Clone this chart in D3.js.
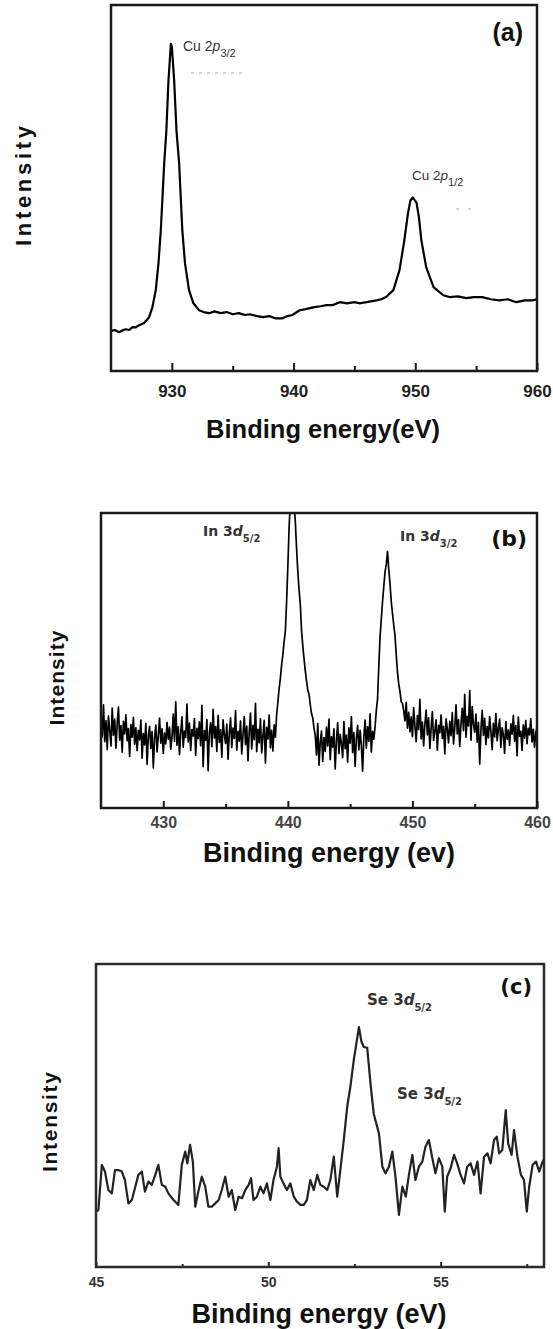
<!DOCTYPE html>
<html>
<head>
<meta charset="utf-8">
<script src="https://cdn.jsdelivr.net/npm/d3@7"></script>
<style>
  body { margin: 0; background: #fff; }
  text { font-family: "Liberation Sans", Arial, sans-serif; }
</style>
</head>
<body>
<div id="chart"></div>
<script>
// ---- data (intensity in arbitrary units 0-100 of frame height) ----

// (a) Cu 2p
const cuEnergy = [925.0,925.3,925.66,926.0,926.21,926.5,926.76,927.0,927.31,927.72,928.13,928.40,928.68,928.90,929.09,929.23,929.37,929.55,929.72,929.92,930.0,930.19,930.38,930.6,930.73,930.86,931.08,931.41,931.77,932.24,932.6,933.07,933.5,934.0,934.5,935.0,935.5,936.0,936.4,937.0,937.5,938.0,938.5,939.1,939.5,939.9,940.5,941.0,941.6,942.2,942.7,943.2,943.8,944.4,945.0,945.4,946.0,946.8,947.2,947.6,948.2,948.7,949.1,949.4,949.6,949.8,950.1,950.3,950.5,950.9,951.5,952.3,952.8,953.5,954.2,954.8,955.5,956.2,956.9,957.6,958.3,959.0,959.6,960.0];
const cuIntensity = [10.9,11.2,10.6,11.2,11.4,11.2,12.0,11.9,12.5,13.1,14.7,17.4,22.1,29.4,38.4,47.4,56.7,65.7,79.3,89.4,88.6,79.3,65.7,56.7,47.4,38.4,29.4,22.1,18.5,16.6,16.1,15.8,16.3,15.8,16.1,15.5,15.8,15.3,15.5,15.0,14.7,15.0,14.4,14.4,15.0,15.3,16.6,16.9,17.4,17.7,18.0,18.0,18.8,18.5,18.8,18.5,18.8,19.3,19.6,20.2,22.1,27.5,35.7,43.1,46.6,47.4,46.0,42.0,35.7,28.3,22.9,20.7,20.2,20.4,19.9,20.2,20.2,19.6,19.3,19.6,18.8,19.3,19.3,19.6];
const cuMajorTicks = [930, 940, 950, 960];
const cuMinorTicks = [935, 945, 955];

// (b) In 3d, sampled every 0.1 eV from 425 eV
const inStart = 425, inStep = 0.1;
const inIntensity = [
  27.8,24.1,35.0,22.5,29.6,19.8,31.2,26.4,21.0,33.9,
  24.7,30.1,20.3,28.5,34.2,23.0,27.9,18.9,29.4,25.1,
  31.6,22.8,26.9,17.5,28.3,24.0,30.7,21.6,27.2,19.4,
  26.3,23.1,29.8,16.9,25.2,21.4,28.6,14.8,24.5,27.7,
  20.2,25.9,13.6,23.8,28.1,19.0,24.6,30.5,22.0,26.8,
  18.5,25.4,21.7,29.0,23.3,27.4,19.9,24.2,31.8,22.6,
  36.0,21.3,27.5,18.1,25.7,30.9,20.6,26.1,23.9,35.2,
  22.4,28.8,19.5,26.6,24.4,30.3,17.8,27.0,23.5,29.2,
  21.1,34.8,14.0,26.2,22.9,30.0,12.6,25.6,28.9,20.8,
  33.4,23.7,27.6,19.2,31.4,22.2,26.5,17.2,29.9,24.8,
  21.9,28.4,16.5,25.3,30.6,20.5,27.1,23.6,33.0,19.6,
  26.0,22.7,29.5,18.3,24.9,31.0,21.5,27.8,16.0,25.8,
  32.2,20.0,28.0,23.2,35.5,19.1,26.7,22.1,30.2,18.7,
  24.3,29.7,15.2,27.3,23.4,31.5,20.4,26.3,19.3,28.2,
  24.0,31.5,36.0,40.5,44.0,48.5,52.0,56.5,60.0,70.0,
  82.0,95.0,104.0,108.0,106.0,103.0,97.0,88.0,80.0,74.0,
  69.0,60.0,55.0,50.5,46.5,43.0,40.0,38.5,35.0,32.0,
  30.5,27.0,24.5,18.0,28.6,14.5,22.3,26.1,15.8,23.9,
  19.2,27.4,21.0,30.1,16.4,24.2,20.6,26.8,13.2,22.7,
  28.9,18.4,25.0,21.9,17.1,29.3,20.1,24.7,15.5,27.2,
  22.0,31.0,18.8,25.6,14.1,23.5,28.0,19.7,26.3,21.2,
  12.5,24.0,29.8,20.3,27.5,22.6,31.9,19.0,26.0,23.3,
  27.5,33.0,37.0,48.0,58.0,64.0,70.0,75.0,80.0,82.5,
  87.0,81.0,76.0,70.0,66.0,62.0,58.5,52.0,46.0,42.0,
  39.5,36.0,35.5,33.0,29.5,35.8,27.1,32.4,25.8,30.9,
  24.2,34.0,27.9,22.5,31.3,26.6,36.8,23.4,29.1,21.0,
  28.4,33.2,24.8,30.6,20.2,27.0,32.7,22.9,26.1,29.9,
  19.6,28.0,25.5,31.5,23.6,27.7,18.3,30.2,26.9,22.1,
  29.4,24.5,32.3,21.7,27.3,35.0,25.1,30.0,20.9,28.6,
  33.8,26.2,38.5,24.0,31.1,27.8,39.8,23.0,34.4,28.3,
  25.7,31.8,22.3,29.0,14.8,26.5,33.1,24.6,30.4,21.5,
  27.6,23.8,31.0,25.9,19.8,28.7,24.1,32.0,22.8,26.8,
  30.1,20.5,27.2,24.9,18.5,29.3,23.3,26.4,21.2,28.5,
  25.0,31.4,22.6,27.9,17.7,30.8,24.3,26.0,19.5,28.2,
  23.7,29.6,21.8,27.0,24.8,30.2,22.4,26.7,20.6,25.5,
  27.3
];
const inMajorTicks = [430, 440, 450, 460];
const inMinorTicks = [435, 445, 455];

// (c) Se 3d
const seEnergy = [45.00,45.07,45.17,45.26,45.36,45.46,45.55,45.65,45.75,45.84,45.94,46.04,46.13,46.23,46.33,46.42,46.52,46.62,46.72,46.81,46.91,47.01,47.10,47.25,47.39,47.49,47.59,47.65,47.73,47.81,47.88,47.97,48.07,48.17,48.26,48.36,48.46,48.56,48.65,48.75,48.85,48.94,49.04,49.14,49.24,49.33,49.43,49.50,49.57,49.67,49.77,49.86,49.96,50.06,50.15,50.25,50.30,50.35,50.44,50.54,50.64,50.74,50.83,50.93,51.03,51.12,51.22,51.32,51.42,51.51,51.61,51.71,51.80,51.90,52.00,52.09,52.19,52.29,52.38,52.48,52.63,52.70,52.77,52.87,52.97,53.06,53.21,53.31,53.40,53.50,53.60,53.69,53.79,53.89,53.99,54.08,54.18,54.27,54.37,54.47,54.56,54.66,54.76,54.85,54.95,55.05,55.12,55.19,55.29,55.39,55.48,55.58,55.68,55.77,55.87,55.97,56.07,56.16,56.26,56.36,56.45,56.55,56.63,56.70,56.79,56.89,56.96,57.06,57.13,57.23,57.33,57.42,57.50,57.57,57.67,57.77,57.86,57.96,58.00];
const seIntensity = [18.3,18.8,33.7,31.5,25.4,24.3,32.0,32.0,31.5,28.7,21.0,22.1,26.0,30.4,31.5,24.9,28.2,27.1,30.4,33.7,27.1,26.5,24.3,22.1,20.5,33.7,38.1,34.2,40.3,34.8,19.9,24.9,29.8,26.5,19.9,19.9,21.0,22.1,25.4,29.8,23.2,25.4,18.8,23.2,22.7,25.4,27.1,29.3,22.1,23.2,26.5,24.3,27.6,22.1,28.7,33.1,39.2,29.8,27.6,25.4,27.6,23.2,21.6,20.5,20.5,22.1,28.7,25.4,30.4,27.1,26.5,25.4,28.7,36.4,23.2,32.0,41.9,52.9,59.4,68.3,79.2,74.5,72.6,72.3,60.0,50.5,44.1,33.1,30.9,33.1,38.1,29.8,17.2,26.5,23.2,30.4,37.0,28.7,33.1,34.8,39.7,41.9,35.9,30.9,35.9,33.1,18.3,29.8,32.6,37.0,34.2,30.4,27.6,33.1,34.2,30.4,34.8,24.3,36.4,37.5,34.2,41.9,43.0,37.5,38.6,51.8,40.8,37.0,45.2,36.4,30.4,28.7,18.3,26.5,33.7,34.8,31.5,34.8,35.5];
const seMajorTicks = [45, 50, 55];
const seMinorTicks = [47.5, 52.5, 57.5];

// ---- layout ----
const svg = d3.select("#chart").append("svg")
  .attr("width", 553)
  .attr("height", 1329)
  .style("background", "#fff");

const panels = [
  {
    id: "a",
    points: cuEnergy.map((e, i) => [e, cuIntensity[i]]),
    xDomain: [925, 960], major: cuMajorTicks, minor: cuMinorTicks,
    left: 111, right: 537, top: 5, bottom: 371,
    lineWidth: 2.2, lineColor: "#000", frameColor: "#1a1a1a", frameWidth: 2.5,
    majorLen: 8, minorLen: 5, tickFont: 17, tickPad: 14, tickColor: "#222",
    title: "Binding energy(eV)", titleX: 323, titleY: 438, titleSize: 25.5,
    yTitleX: 31, yTitleY: 186, yTitleSize: 22, yTitleLen: 120,
    tag: "(a)", tagX: 523, tagY: 41, tagSize: 25, tagFont: "Liberation Sans",
    peaks: [
      { x: 183, y: 51, main: "Cu 2", it: "p", sub: "3/2", size: 14, subSize: 11, dy: 6, font: "Liberation Sans", weight: "normal", color: "#333" },
      { x: 412, y: 180, main: "Cu 2", it: "p", sub: "1/2", size: 13.5, subSize: 11, dy: 6, font: "Liberation Sans", weight: "normal", color: "#333" }
    ]
  },
  {
    id: "b",
    points: inIntensity.map((v, i) => [+(inStart + i * inStep).toFixed(1), v]),
    xDomain: [425, 460], major: inMajorTicks, minor: inMinorTicks,
    left: 101, right: 537, top: 513, bottom: 808,
    lineWidth: 1.7, lineColor: "#000", frameColor: "#1a1a1a", frameWidth: 2.5,
    majorLen: 7, minorLen: 4, tickFont: 16, tickPad: 8.6, tickColor: "#444",
    title: "Binding energy (ev)", titleX: 329, titleY: 862, titleSize: 27,
    yTitleX: 64, yTitleY: 678, yTitleSize: 21, yTitleLen: 95,
    tag: "(b)", tagX: 527, tagY: 546, tagSize: 22, tagFont: "DejaVu Sans",
    peaks: [
      { x: 203, y: 536, main: "In 3", it: "d", sub: "5/2", size: 14, subSize: 10, dy: 6, font: "DejaVu Sans", weight: "bold", color: "#333" },
      { x: 400, y: 541, main: "In 3", it: "d", sub: "3/2", size: 14, subSize: 10, dy: 6, font: "DejaVu Sans", weight: "bold", color: "#333" }
    ]
  },
  {
    id: "c",
    points: seEnergy.map((e, i) => [e, seIntensity[i]]),
    xDomain: [45, 58], major: seMajorTicks, minor: seMinorTicks,
    left: 96, right: 544, top: 964, bottom: 1267,
    lineWidth: 2.2, lineColor: "#222", frameColor: "#2a2a2a", frameWidth: 2.5,
    majorLen: 5, minorLen: 3, tickFont: 14, tickPad: 10, tickColor: "#333",
    title: "Binding energy (eV)", titleX: 319, titleY: 1323, titleSize: 27,
    yTitleX: 57, yTitleY: 1122, yTitleSize: 21, yTitleLen: 100,
    tag: "(c)", tagX: 532, tagY: 994, tagSize: 21, tagFont: "DejaVu Sans",
    peaks: [
      { x: 367, y: 1005, main: "Se 3", it: "d", sub: "5/2", size: 15, subSize: 10, dy: 6, font: "DejaVu Sans", weight: "bold", color: "#333" },
      { x: 397, y: 1099, main: "Se 3", it: "d", sub: "5/2", size: 15, subSize: 10, dy: 6, font: "DejaVu Sans", weight: "bold", color: "#333" }
    ]
  }
];

panels.forEach(p => {
  const x = d3.scaleLinear().domain(p.xDomain).range([p.left, p.right]);
  const y = d3.scaleLinear().domain([0, 100]).range([p.bottom, p.top]);
  const g = svg.append("g").attr("id", "panel-" + p.id);

  g.append("clipPath").attr("id", "clip-" + p.id)
    .append("rect")
    .attr("x", p.left).attr("y", p.top)
    .attr("width", p.right - p.left).attr("height", p.bottom - p.top);

  const line = d3.line().x(d => x(d[0])).y(d => y(d[1]));

  g.append("path")
    .datum(p.points)
    .attr("clip-path", "url(#clip-" + p.id + ")")
    .attr("d", line)
    .attr("fill", "none")
    .attr("stroke", p.lineColor)
    .attr("stroke-width", p.lineWidth)
    .attr("stroke-linejoin", "round");

  // inward ticks
  const major = g.append("g")
    .attr("transform", "translate(0," + p.bottom + ")")
    .call(d3.axisBottom(x).tickValues(p.major).tickSize(-p.majorLen)
      .tickPadding(p.tickPad).tickFormat(d3.format("d")));
  const minor = g.append("g")
    .attr("transform", "translate(0," + p.bottom + ")")
    .call(d3.axisBottom(x).tickValues(p.minor).tickSize(-p.minorLen).tickFormat(""));
  [major, minor].forEach(a => {
    a.select(".domain").remove();
    a.selectAll("line").attr("stroke", p.frameColor).attr("stroke-width", 2);
  });
  major.selectAll("text")
    .attr("font-family", "Liberation Sans, Arial, sans-serif")
    .attr("font-size", p.tickFont)
    .attr("font-weight", "bold")
    .attr("fill", p.tickColor);

  g.append("rect")
    .attr("x", p.left).attr("y", p.top)
    .attr("width", p.right - p.left).attr("height", p.bottom - p.top)
    .attr("fill", "none")
    .attr("stroke", p.frameColor)
    .attr("stroke-width", p.frameWidth);

  g.append("text")
    .attr("x", p.titleX).attr("y", p.titleY)
    .attr("text-anchor", "middle")
    .attr("font-size", p.titleSize)
    .attr("font-weight", "bold")
    .attr("fill", "#111")
    .text(p.title);

  g.append("text")
    .attr("transform", "translate(" + p.yTitleX + "," + p.yTitleY + ") rotate(-90)")
    .attr("text-anchor", "middle")
    .attr("font-size", p.yTitleSize)
    .attr("font-weight", "bold")
    .attr("fill", "#111")
    .attr("textLength", p.yTitleLen)
    .attr("lengthAdjust", "spacing")
    .text("Intensity");

  g.append("text")
    .attr("x", p.tagX).attr("y", p.tagY)
    .attr("text-anchor", "end")
    .style("font-family", p.tagFont)
    .attr("font-size", p.tagSize)
    .attr("font-weight", "bold")
    .attr("fill", "#111")
    .text(p.tag);

  p.peaks.forEach(l => {
    const t = g.append("text")
      .attr("x", l.x).attr("y", l.y)
      .style("font-family", l.font)
      .attr("font-size", l.size)
      .attr("font-weight", l.weight)
      .attr("fill", l.color);
    t.append("tspan").text(l.main);
    t.append("tspan").attr("font-style", "italic").text(l.it);
    t.append("tspan").attr("font-size", l.subSize).attr("dy", l.dy).text(l.sub);
  });
});

// faint scan marks under the Cu labels
svg.append("line")
  .attr("x1", 191).attr("x2", 245).attr("y1", 73).attr("y2", 73)
  .attr("stroke", "#c8c8c8").attr("stroke-width", 1.5).attr("stroke-dasharray", "3,5");
svg.append("line")
  .attr("x1", 456).attr("x2", 471).attr("y1", 209).attr("y2", 209)
  .attr("stroke", "#c8c8c8").attr("stroke-width", 1.5).attr("stroke-dasharray", "3,9");
</script>
</body>
</html>
